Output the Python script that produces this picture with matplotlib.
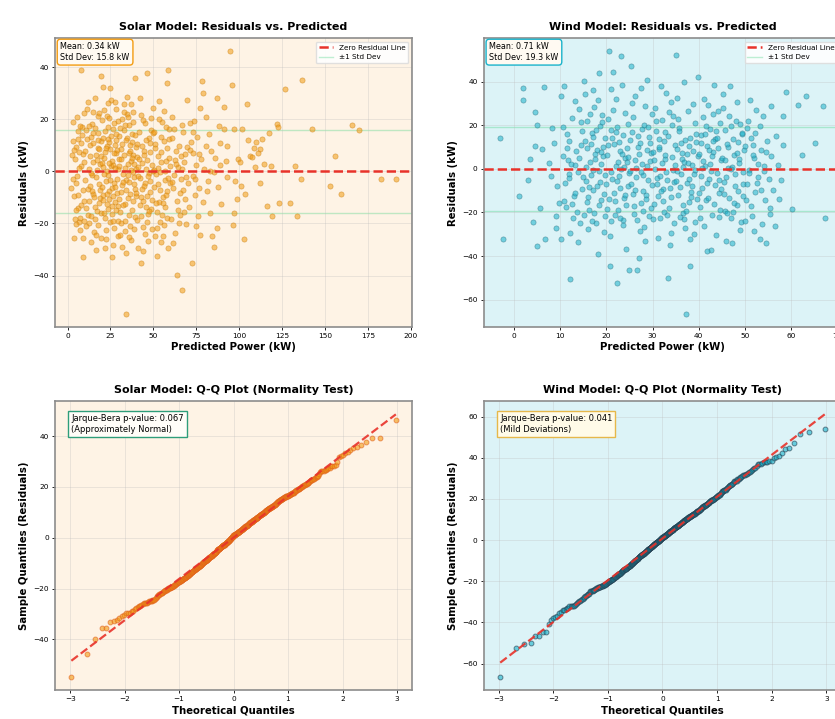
import numpy as np
import matplotlib
matplotlib.use("Agg")
import matplotlib.pyplot as plt
from statistics import NormalDist

# -----------------------------
# Values
# -----------------------------
solar_pred = [
    2.5, 3.1, 4.1, 4.0, 9.0, 9.0, 8.0, 5.2, 6.3, 7.1,
    3.6, 5.8, 6.9, 7.7, 8.4, 9.5, 2.9, 4.7, 6.0, 8.8,
    3.3, 5.0, 6.6, 7.4, 9.2, 9.8, 4.4, 5.5, 7.9, 8.6,
    2.2, 3.9, 6.2, 7.0, 8.1, 9.6, 5.3, 4.9, 6.8, 9.3,
    10.4, 11.2, 12.0, 12.8, 13.5, 14.3, 15.1, 15.8, 16.8, 17.5,
    18.2, 19.0, 19.7, 10.9, 11.7, 12.5, 13.2, 14.0, 14.8, 15.5,
    16.3, 17.1, 17.9, 18.6, 19.4, 10.2, 11.5, 12.2, 13.8, 14.6,
    15.3, 16.0, 16.6, 17.7, 18.4, 19.2, 19.9, 11.0, 12.7, 13.4,
    14.1, 15.0, 16.2, 17.3, 18.0, 18.8, 19.5, 10.7, 12.3, 13.9,
    14.9, 15.9, 16.9, 17.8, 18.9, 19.6, 11.9, 13.0, 16.5, 18.5,
    20.2, 20.9, 21.6, 22.3, 22.6, 23.1, 23.8, 24.6, 25.3, 26.1,
    26.5, 27.0, 27.8, 28.4, 29.1, 29.8, 20.5, 21.2, 22.0, 22.9,
    23.5, 24.2, 25.0, 25.7, 26.4, 27.3, 28.0, 28.8, 29.5, 20.7,
    21.5, 22.4, 23.3, 24.0, 24.9, 25.6, 26.3, 27.1, 27.9, 28.6,
    29.4, 20.1, 21.0, 21.8, 22.7, 23.6, 24.4, 25.2, 26.0, 26.8,
    27.6, 28.3, 29.2, 29.9, 20.4, 21.4, 22.2, 23.0, 23.9, 24.7,
    25.5, 26.2, 27.4, 28.1, 28.9, 29.6, 21.8, 23.4, 25.9, 27.7,
    24.3, 26.7, 22.8, 28.5, 20.8,
    30.4, 31.1, 31.9, 32.6, 33.3, 33.9, 34.7, 35.4, 36.2, 37.2,
    37.8, 38.5, 39.2, 30.8, 31.5, 32.2, 33.0, 33.7, 34.5, 35.2,
    36.0, 36.7, 37.5, 38.2, 39.0, 39.7, 30.2, 31.3, 32.8, 34.1,
    35.7, 36.5, 37.3, 38.0, 38.8, 39.5, 30.6, 31.7, 33.5, 34.9,
    35.9, 37.0, 38.4, 39.3, 30.0, 32.4, 33.2, 35.0, 36.9, 38.7,
    31.0, 32.0, 34.3, 36.3, 37.7, 39.8, 33.6, 35.6, 38.1, 31.8,
    34.0, 36.0, 37.9, 39.6, 32.9, 30.9, 35.3, 38.6, 33.8, 36.6,
    40.3, 41.1, 42.1, 43.0, 43.8, 44.5, 45.3, 46.0, 46.8, 47.6,
    48.3, 49.1, 49.9, 40.7, 41.5, 42.4, 43.3, 44.1, 44.9, 45.7,
    46.5, 47.3, 48.0, 48.8, 49.6, 40.1, 41.9, 43.6, 45.0, 46.2,
    47.9, 49.4, 40.9, 42.7, 44.3, 45.9, 47.0, 48.6, 41.3, 43.9,
    46.4, 48.2, 42.9, 44.7, 49.0, 40.5, 45.5, 47.4, 43.1, 49.7,
    41.7, 44.0, 46.7, 48.5, 42.6,
    50.9, 51.9, 52.6, 53.4, 54.2, 54.8, 55.7, 56.5, 57.7, 58.7,
    58.7, 59.5, 50.3, 51.2, 52.0, 52.9, 53.7, 54.5, 55.3, 56.1,
    56.9, 57.4, 58.2, 59.0, 59.8, 50.6, 51.5, 52.3, 53.1, 54.0,
    54.7, 55.5, 56.3, 57.1, 57.9, 58.4, 59.2, 50.1, 51.7, 53.3,
    55.0, 56.7, 58.0, 59.3, 52.5, 54.3, 57.6, 51.0, 53.8, 56.0,
    60.6, 61.4, 62.3, 63.5, 64.2, 65.0, 65.8, 66.5, 66.5, 67.4,
    68.3, 69.4, 60.2, 61.0, 61.9, 62.7, 63.1, 64.6, 65.4, 66.2,
    67.0, 67.9, 68.8, 69.7, 60.9, 62.0, 63.8, 64.9, 66.9, 68.6,
    61.6, 63.4, 65.6, 67.7, 69.0,
    70.4, 71.2, 72.3, 73.3, 74.1, 75.0, 75.8, 76.6, 77.2, 78.2,
    79.1, 70.8, 71.7, 72.8, 73.9, 74.7, 75.5, 76.3, 77.8, 78.7,
    79.6, 71.4, 74.4, 76.9, 73.0,
    84.0, 85.0, 85.0, 86.9, 90.9, 91.2, 94.7, 95.6, 96.7, 96.7,
    96.3, 97.6, 98.6, 80.5, 81.4, 82.3, 83.2, 86.0, 87.7, 88.5,
    89.4, 92.1, 93.0, 80.9, 82.8, 83.7, 87.1, 89.0, 92.6, 99.2,
    81.8, 88.2,
    100.6, 102.5, 104.5, 106.0, 110.0, 112.0, 112.3, 116.0, 119.0, 122.0,
    122.4, 123.0, 101.8, 103.6, 105.2, 107.5, 108.4, 109.2, 111.1, 113.5,
    114.4, 117.3, 101.0, 118.4,
    126.9, 129.8, 132.7, 133.7, 135.7, 136.6, 142.5, 153.0, 156.0, 159.0,
    165.9, 169.8, 182.5, 191.2,
]
solar_resid = [
    6.2, 19.0, 4.8, -25.6, -25.6, -32.8, 39.1, -4.5, 12.3, -17.8,
    -9.6, 15.7, -19.4, 2.1, 16.9, -11.2, -3.0, 9.4, -14.1, 6.7,
    11.8, -20.3, 1.4, 17.5, -7.1, 22.6, -18.2, -1.8, -12.9, 14.0,
    -6.4, 8.2, -9.0, -22.5, 10.9, 3.6, 20.8, -14.8, 7.5, -19.0,
    -3.3, 12.4, -16.7, 5.9, -27.2, 18.3, -8.8, 28.1, -30.2, 9.2,
    -12.0, 2.7, 36.5, 16.1, -6.9, -19.8, 10.1, -1.2, 14.7, -23.4,
    6.4, -15.3, 21.5, -4.8, 11.6, 7.9, 24.0, -11.4, -17.2, 3.8,
    -9.9, 16.8, -2.3, -20.5, 8.5, -25.6, 19.8, -14.2, 1.0, 13.3,
    -7.7, 22.9, -13.6, 4.5, 14.9, -7.0, -16.0, -21.1, 17.4, -0.5,
    10.8, -18.4, 0.6, 12.0, -10.4, 6.0, 26.7, -5.6, -24.3, 22.4,
    3.1, -9.2, 15.4, -3.7, -22.4, 9.8, -14.6, 32.0, 1.9, -6.3,
    -28.2, 18.6, -11.8, 6.9, -18.9, 13.7, 32.6, -15.8, 7.4, 21.2,
    -1.5, 11.3, -19.6, 4.2, 16.5, -4.4, 24.1, -8.1, 0.8, -11.0,
    5.2, -25.8, 12.6, -7.4, 8.8, -13.4, 2.4, -21.7, 10.3, -2.9,
    19.4, -5.9, 23.6, -18.0, 0.2, 17.1, -10.7, 27.4, -16.4, 7.0,
    -6.0, 14.2, -13.1, 4.9, 12.9, -1.0, 9.1, -8.7, 3.4, -3.1,
    13.5, -9.6, 1.3, -15.0, 8.3, -24.8, -29.5, 26.2, -33.0, 26.8,
    20.4, -19.1, -12.6, 11.9, 1.6,
    -24.3, 8.6, -5.2, 15.8, -12.4, -54.8, 28.7, 2.8, -8.5, -26.3,
    11.5, -2.0, 35.9, -15.7, 20.3, -0.9, 6.2, -19.2, 12.8, -10.1,
    18.0, 4.0, -14.9, 22.7, -6.6, 9.5, 2.2, -8.0, 25.8, -3.4,
    7.1, -20.9, 14.5, -11.5, 3.0, -17.5, 16.6, 10.7, -22.8, 21.9,
    -4.1, 0.5, 6.5, 13.9, -10.6, -13.0, 1.5, -1.3, 26.1, -22.0,
    4.6, -3.9, -7.3, 10.0, 5.3, -9.3, 17.8, -16.9, -0.2, -28.9,
    12.1, -25.1, 19.1, 1.1, 23.0, -19.9, 21.1, -4.7, -31.5, 7.8,
    5.5, -29.5, 28.1, -35.3, -11.2, 8.0, -4.6, 37.8, -16.2, 13.0,
    -7.9, 2.6, 24.2, -18.6, 15.0, -2.6, 9.9, -21.4, 18.7, -13.8,
    4.4, -0.7, 11.1, -14.4, 0.0, -8.3, -12.8, 3.2, -24.0, -19.5,
    7.6, -10.9, 1.8, 21.7, -5.5, 12.2, -26.7, 16.0, -1.6, 19.6,
    -9.5, -3.6, -17.1, 6.3, -22.2, 10.4, 0.9, -15.2, -6.8, 14.6,
    4.7, -30.6, -1.9, 20.6, -9.9,
    -25.0, -32.4, 6.1, -11.6, 13.4, 19.0, -25.0, -3.2, 33.9, 39.1,
    -29.5, 2.0, -6.1, 9.0, -15.5, 1.2, -19.3, 7.3, -9.7, 11.7,
    -13.5, 4.1, -17.9, 16.2, -4.4, 15.1, -1.1, -21.6, 20.0, -7.2,
    3.7, -12.2, 23.3, -8.9, 8.9, -2.4, 12.5, 0.4, -12.1, 26.9,
    -16.6, 0.1, -7.5, 5.1, -4.9, -27.0, 17.2, 10.6, -0.3, -20.7,
    21.0, -6.4, 4.3, -39.9, -14.7, 9.7, -2.8, -45.7, 17.7, 15.1,
    -10.5, 27.4, -18.3, 12.7, -1.4, -23.7, 7.7, 1.7, -16.8, 5.8,
    -7.0, 3.5, -20.2, 9.3, -4.0, 16.4, -11.3, -19.7, 0.9, 6.8,
    -27.6, 2.9, -8.2, -15.6, -2.0,
    -4.3, 8.1, -35.3, 15.1, -9.1, 2.5, -17.0, 6.6, 24.2, 34.6,
    30.0, -13.7, 11.4, -1.7, 19.3, -21.0, 13.2, -6.5, 4.8, -11.9,
    1.0, 18.5, -3.0, -24.5, 7.2,
    -25.0, -28.9, -0.4, 28.1, 16.4, 24.9, 46.2, 33.3, 16.4, -15.9,
    -20.5, -3.6, -10.7, 9.6, -7.6, 14.3, -16.1, 5.0, -5.8, 11.0,
    -12.7, 3.9, -2.2, 20.9, 0.3, 7.9, -21.9, 2.3, 9.9, 4.6,
    -3.8, 17.6,
    3.5, -26.0, 26.1, 6.0, 11.3, 8.7, -4.3, -13.3, -17.2, 18.4,
    17.0, -12.0, 16.2, -8.8, 11.9, 5.5, 8.9, 1.6, 6.9, 12.6,
    3.0, 14.8, -5.7, 1.9,
    31.7, -12.3, 2.2, -17.2, -3.0, 35.2, 16.4, -5.6, 6.1, -8.8,
    17.7, 15.8, -3.0, -3.0,
]

wind_pred = [
    -3.0, -2.3, 2.0, 2.0, 3.5, 4.6, 4.6, 5.0, 5.0, 6.5,
    6.8, 9.0, 9.4, 10.1, 1.0, 7.5, 8.2, 3.0, 9.8, 6.0,
    7.9, 5.7, 8.6, 9.1, 4.0,
    10.8, 10.2, 12.2, 12.1, 10.5, 11.0, 11.4, 11.8, 12.5, 12.9,
    13.3, 13.6, 14.0, 14.4, 14.8, 10.7, 11.2, 11.6, 12.0, 12.7,
    13.1, 13.5, 13.9, 14.3, 14.7, 10.9, 11.9, 12.4, 13.2, 14.1,
    14.6, 11.5, 13.8, 12.6, 14.9,
    15.1, 18.4, 15.3, 15.6, 15.9, 16.2, 16.5, 16.8, 17.1, 17.4,
    17.7, 18.0, 18.3, 18.6, 18.9, 19.2, 19.5, 19.8, 15.2, 15.5,
    15.8, 16.1, 16.4, 16.7, 17.0, 17.3, 17.6, 17.9, 18.2, 18.5,
    18.8, 19.1, 19.4, 19.7, 15.4, 16.0, 16.6, 17.2, 17.8, 18.7,
    19.0, 19.6, 16.3, 17.5, 15.7, 18.1, 19.3, 16.9, 17.0, 18.9,
    20.6, 23.1, 20.8, 22.4, 24.8, 20.2, 20.5, 20.9, 21.2, 21.5,
    21.8, 22.1, 22.7, 23.0, 23.4, 23.7, 24.0, 24.3, 24.6, 24.9,
    20.3, 20.7, 21.0, 21.3, 21.7, 22.0, 22.3, 22.6, 22.9, 23.2,
    23.5, 23.8, 24.1, 24.4, 24.7, 20.1, 21.4, 22.2, 23.6, 24.5,
    21.1, 22.8, 23.9, 20.4, 21.9, 23.3, 24.2, 22.5, 21.6, 20.0,
    22.0, 24.0, 23.0, 21.0, 24.6,
    26.6, 27.1, 27.5, 25.1, 25.4, 25.7, 26.0, 26.3, 26.9, 27.3,
    27.7, 28.0, 28.3, 28.6, 28.9, 29.2, 29.5, 29.8, 25.2, 25.5,
    25.8, 26.1, 26.4, 26.7, 27.0, 27.4, 27.8, 28.1, 28.4, 28.7,
    29.0, 29.3, 29.6, 29.9, 25.6, 26.2, 26.8, 27.6, 28.2, 28.8,
    29.4, 25.9, 27.2, 28.5, 29.7, 26.5, 27.9, 29.1, 25.3, 28.0,
    31.8, 32.9, 33.3, 34.0, 35.0, 30.1, 30.4, 30.7, 31.0, 31.3,
    31.6, 32.0, 32.3, 32.6, 33.0, 33.6, 33.9, 34.3, 34.6, 34.9,
    30.2, 30.5, 30.8, 31.1, 31.4, 31.7, 32.1, 32.4, 32.7, 33.1,
    33.4, 33.7, 34.1, 34.4, 34.7, 30.3, 30.9, 31.5, 32.2, 32.8,
    33.5, 34.2, 34.8, 30.6, 31.2, 31.9, 32.5, 33.2, 33.8, 34.5,
    37.2, 38.2, 38.2, 39.8, 35.2, 35.5, 35.8, 36.1, 36.4, 36.7,
    37.0, 37.4, 37.7, 38.0, 38.5, 38.8, 39.1, 39.4, 35.3, 35.6,
    35.9, 36.2, 36.5, 36.8, 37.1, 37.5, 37.8, 38.1, 38.4, 38.7,
    39.0, 39.3, 39.6, 39.9, 35.4, 36.0, 36.6, 37.3, 37.9, 38.6,
    39.2, 35.7, 36.3, 36.9, 37.6, 38.9, 39.5, 35.1, 36.8, 38.3,
    42.7, 43.4, 40.1, 40.4, 40.7, 41.0, 41.3, 41.6, 41.9, 42.2,
    42.5, 42.9, 43.2, 43.6, 43.9, 44.2, 44.5, 44.8, 40.2, 40.5,
    40.8, 41.1, 41.4, 41.7, 42.0, 42.3, 42.6, 43.0, 43.3, 43.7,
    44.0, 44.3, 44.6, 44.9, 40.3, 40.9, 41.5, 42.1, 42.8, 43.5,
    44.1, 44.7, 40.6, 41.2, 41.8, 42.4, 43.1, 43.8, 44.4, 40.0,
    46.7, 45.1, 45.4, 45.7, 46.0, 46.3, 46.9, 47.2, 47.5, 47.8,
    48.1, 48.4, 48.7, 49.0, 49.3, 49.6, 49.9, 45.2, 45.5, 45.8,
    46.1, 46.4, 46.6, 47.0, 47.3, 47.6, 47.9, 48.2, 48.5, 48.8,
    49.1, 49.4, 49.7, 45.3, 45.9, 46.5, 47.1, 47.7, 48.3, 48.9,
    49.5, 45.6, 47.4, 48.6, 46.2,
    53.2, 54.6, 54.3, 55.4, 50.1, 50.4, 50.7, 51.0, 51.3, 51.6,
    51.9, 52.2, 52.5, 52.8, 53.5, 53.8, 54.1, 54.9, 50.2, 50.5,
    50.8, 51.1, 51.4, 51.7, 52.0, 52.3, 52.6, 52.9, 53.3, 53.6,
    53.9, 54.2, 54.5, 50.0, 51.8,
    55.7, 55.7, 58.2, 58.2, 59.0, 61.5, 63.3, 67.0, 67.3, 56.0,
    56.5, 57.1, 55.2, 56.8, 57.5, 60.2, 62.4, 65.1, 55.5, 57.9,
]
wind_resid = [
    14.2, -32.3, 37.1, 31.7, 4.3, 26.0, 10.4, 20.2, -35.4, 37.4,
    -32.3, -21.8, -8.0, 33.2, -12.5, 2.6, 18.8, -5.0, -15.7, 8.9,
    -3.4, -18.2, 11.7, -27.0, -24.4,
    37.8, -32.0, -29.5, -50.7, 6.0, -6.7, 15.9, -2.4, 23.2, -12.4,
    1.7, -19.6, 27.4, 10.8, -9.3, 19.3, -17.7, 4.1, 12.8, -22.6,
    31.3, 8.1, -1.7, -25.0, 17.1, -14.6, -4.3, 2.4, -10.9, 5.0,
    21.6, 9.7, -33.5, -16.1, -3.9,
    40.1, 44.1, 12.6, -5.4, 22.0, -18.8, 3.3, 16.3, -9.6, 28.5,
    -24.7, 8.8, -1.0, 19.7, -14.3, 5.9, -29.1, 13.9, -21.3, 0.8,
    9.5, -12.8, 25.1, -3.0, 14.6, -20.5, 6.7, -7.8, 31.4, -16.7,
    2.0, 21.3, -11.5, -21.8, 34.5, -27.8, 11.2, -0.5, 17.6, -6.2,
    24.5, -2.7, -8.4, 4.6, -15.2, -38.9, 10.0, -23.9, 36.0, 7.9,
    53.9, 51.6, -44.5, -52.5, -46.4, 6.3, -13.9, 17.8, -4.6, 27.0,
    -21.2, 1.4, 12.2, -9.0, 38.5, -26.0, 4.9, -16.4, 20.6, -2.1,
    10.7, -30.9, -1.3, 14.0, -11.2, 31.9, -5.8, -19.0, 8.3, -0.2,
    15.5, -13.3, 25.7, 3.0, -8.0, -18.4, 44.6, 19.2, -23.3, 9.3,
    -24.1, -3.5, 0.6, 22.8, -14.9, 7.0, -36.7, 2.9, 11.4, -7.2,
    16.9, -11.8, -22.8, 36.8, 5.5,
    -46.4, -40.7, 37.1, 13.1, -6.9, 23.9, -17.2, 4.0, 9.9, -28.7,
    18.1, -2.9, 28.9, -12.0, 1.1, -21.7, 11.6, -7.5, -0.9, 17.0,
    -11.6, 33.6, -3.8, -23.5, 6.7, -15.6, 2.2, 20.0, -33.2, 8.6,
    -5.0, 14.5, -18.1, 25.3, 30.1, -9.8, 15.0, -1.5, -26.8, 40.9,
    3.6, -20.9, 12.0, -14.0, 7.4, 0.3, -10.1, 19.0, 47.3, -19.4,
    37.8, 34.8, -50.1, -29.5, 52.4, 7.8, -16.0, 21.7, -4.2, 13.6,
    -22.4, 2.5, -9.4, 16.7, -1.6, 26.2, -13.1, 5.2, -6.1, 11.0,
    -23.1, 0.0, 17.5, -12.7, 9.0, -3.2, 22.3, -19.8, 4.4, -21.4,
    14.9, -8.7, 30.7, -0.6, -24.9, 3.8, -7.0, 10.2, -14.7, 6.5,
    -17.9, 19.9, 1.6, 28.0, -31.6, -10.3, 12.9, -5.3, -34.8, 24.4,
    -66.6, -44.5, -32.3, 42.3, 9.2, -11.9, 18.5, -2.6, 4.7, -20.1,
    13.2, -6.4, 26.6, -15.1, 1.9, 8.0, -24.2, 16.1, -1.1, 22.6,
    -8.2, 11.8, -16.8, 3.1, -27.1, 6.9, -4.5, 14.2, -10.6, 29.8,
    -2.3, 20.8, -13.7, 5.8, 32.6, -22.1, 0.9, -19.5, 10.6, -7.7,
    -0.4, 17.3, 7.2, -23.0, 2.7, -29.9, 12.4, -5.7, 39.6, -13.0,
    -37.3, 38.6, 6.8, 15.3, -8.9, 23.7, 1.3, -14.4, 10.4, -4.9,
    18.4, -21.0, 7.5, 13.7, -1.9, 26.5, -11.3, 4.2, -17.5, 11.9,
    0.5, -26.2, 16.0, -6.6, 29.4, 8.7, -0.8, 12.8, -16.3, -30.4,
    14.0, -5.3, 21.1, -9.2, -22.6, 3.4, 19.6, -13.4, 5.9, -7.4,
    9.6, -18.8, -3.3, 32.2, -37.9, 2.0, 24.9, 17.2, -22.3, -11.0,
    37.8, 5.0, -11.7, 18.0, -3.6, 9.8, -22.5, 1.0, 13.5, -8.1,
    22.1, -16.6, 4.5, -28.1, 15.8, -1.4, 8.4, 27.8, -5.9, -19.2,
    11.5, 0.2, -13.6, 19.5, -33.9, 6.2, -2.5, 30.5, -10.0, 2.8,
    -24.6, 16.6, -7.1, 34.2, -33.0, 24.0, -0.1, -15.9, 7.1, 20.7,
    -12.5, 3.9, -19.9, 12.3, -20.3,
    -32.3, -34.1, -14.3, -18.1, 10.3, -6.8, 21.9, -0.7, 14.1, -21.8,
    4.8, -10.7, 26.9, -3.9, 8.5, -25.4, 1.5, 12.7, -14.2, 18.9,
    -2.0, 31.6, -17.1, 6.4, -28.5, 16.4, -6.3, 2.1, 19.4, -9.7,
    24.3, -1.2, 7.7, -24.0, 11.1,
    28.7, 5.7, 24.1, 11.1, 35.0, 29.4, 33.2, 28.7, -22.7, -9.6,
    -26.1, 1.8, -4.5, 15.2, -13.9, -18.4, 6.3, 12.0, -20.6, -5.1,
]

# summary numbers printed on the chart
solar_mean, solar_std = 0.34, 15.8
wind_mean, wind_std = 0.71, 19.3
solar_jb_p, wind_jb_p = 0.067, 0.041

# -----------------------------
# Colours
# -----------------------------
SOLAR_BG = "#fef3e5"
WIND_BG = "#dcf3f7"
SOLAR_DOT = "#f39c12"
WIND_DOT = "#1ab3cb"
ZERO_RED = "#e8322a"
STD_GREEN = "#2ecc71"


def style_axes(ax, bg, title, xlabel, ylabel):
    ax.set_facecolor(bg)
    ax.set_title(title, fontsize=8, fontweight="bold", pad=6)
    ax.set_xlabel(xlabel, fontsize=7.3, fontweight="bold", labelpad=2)
    ax.set_ylabel(ylabel, fontsize=7.3, fontweight="bold", labelpad=3)
    ax.tick_params(labelsize=5.3, length=2.5, width=0.6, pad=2)
    ax.grid(True, color="#bbbbbb", alpha=0.35, linewidth=0.6)
    for s in ax.spines.values():
        s.set_color("#8c8c8c")
        s.set_linewidth(1.2)


def residual_panel(ax, pred, resid, mean, std, bg, dot, edge, title):
    ax.scatter(pred, resid, s=14, color=dot, alpha=0.55,
               edgecolors=edge, linewidths=0.5, zorder=2)
    ax.axhline(0, color=ZERO_RED, linestyle="--", linewidth=1.8,
               label="Zero Residual Line", zorder=3)
    ax.axhline(std, color=STD_GREEN, alpha=0.3, linewidth=1.0,
               label="±1 Std Dev", zorder=1)
    ax.axhline(-std, color=STD_GREEN, alpha=0.3, linewidth=1.0, zorder=1)
    style_axes(ax, bg, title, "Predicted Power (kW)", "Residuals (kW)")
    ax.legend(loc="upper right", fontsize=5.2, framealpha=0.9,
              edgecolor="#dddddd", handlelength=2.0)
    ax.text(0.015, 0.985, f"Mean: {mean:.2f} kW\nStd Dev: {std:.1f} kW",
            transform=ax.transAxes, va="top", ha="left", fontsize=5.8,
            bbox=dict(boxstyle="round,pad=0.4", facecolor="#fffaf2",
                      edgecolor=dot, linewidth=1.0))


def theoretical_quantiles(n):
    # order statistic medians, same as scipy.stats.probplot
    m = np.empty(n)
    m[-1] = 0.5 ** (1.0 / n)
    m[0] = 1 - m[-1]
    i = np.arange(2, n)
    m[1:-1] = (i - 0.3175) / (n + 0.365)
    nd = NormalDist()
    return np.array([nd.inv_cdf(p) for p in m])


def qq_panel(ax, resid, bg, dot, edge, line_col, p_val, verdict, box_edge, box_face, title):
    osr = np.sort(np.asarray(resid))
    osm = theoretical_quantiles(len(osr))
    slope, intercept = np.polyfit(osm, osr, 1)
    ax.plot(osm, osr, "o", markersize=3.5, color=dot, alpha=0.6,
            markeredgecolor=edge, markeredgewidth=0.7, zorder=2)
    ax.plot(osm, slope * osm + intercept, "--", color=line_col,
            linewidth=1.6, alpha=0.9, zorder=3)
    style_axes(ax, bg, title, "Theoretical Quantiles", "Sample Quantiles (Residuals)")
    ax.text(0.045, 0.955, f"Jarque-Bera p-value: {p_val:.3f}\n({verdict})",
            transform=ax.transAxes, va="top", ha="left", fontsize=6,
            bbox=dict(boxstyle="square,pad=0.35", facecolor=box_face,
                      edgecolor=box_edge, linewidth=1.0))


# -----------------------------
# Figure
# -----------------------------
fig = plt.figure(figsize=(8.35, 7.19), dpi=100)
W, H = 0.4275, 0.402
ax1 = fig.add_axes([0.066, 0.545, W, H])
ax2 = fig.add_axes([0.5796, 0.545, W, H])
ax3 = fig.add_axes([0.066, 0.040, W, H])
ax4 = fig.add_axes([0.5796, 0.040, W, H])

residual_panel(ax1, solar_pred, solar_resid, solar_mean, solar_std,
               SOLAR_BG, SOLAR_DOT, "#c87d0a", "Solar Model: Residuals vs. Predicted")
residual_panel(ax2, wind_pred, wind_resid, wind_mean, wind_std,
               WIND_BG, WIND_DOT, "#2a6f80", "Wind Model: Residuals vs. Predicted")

qq_panel(ax3, solar_resid, SOLAR_BG, SOLAR_DOT, "#e0601c", ZERO_RED,
         solar_jb_p, "Approximately Normal", "#2e9e7a", "#fffdf8",
         "Solar Model: Q-Q Plot (Normality Test)")
qq_panel(ax4, wind_resid, WIND_BG, WIND_DOT, "#253a4c", ZERO_RED,
         wind_jb_p, "Mild Deviations", "#e6b84a", "#fffbe8",
         "Wind Model: Q-Q Plot (Normality Test)")

fig.savefig("out.png", dpi=100)
